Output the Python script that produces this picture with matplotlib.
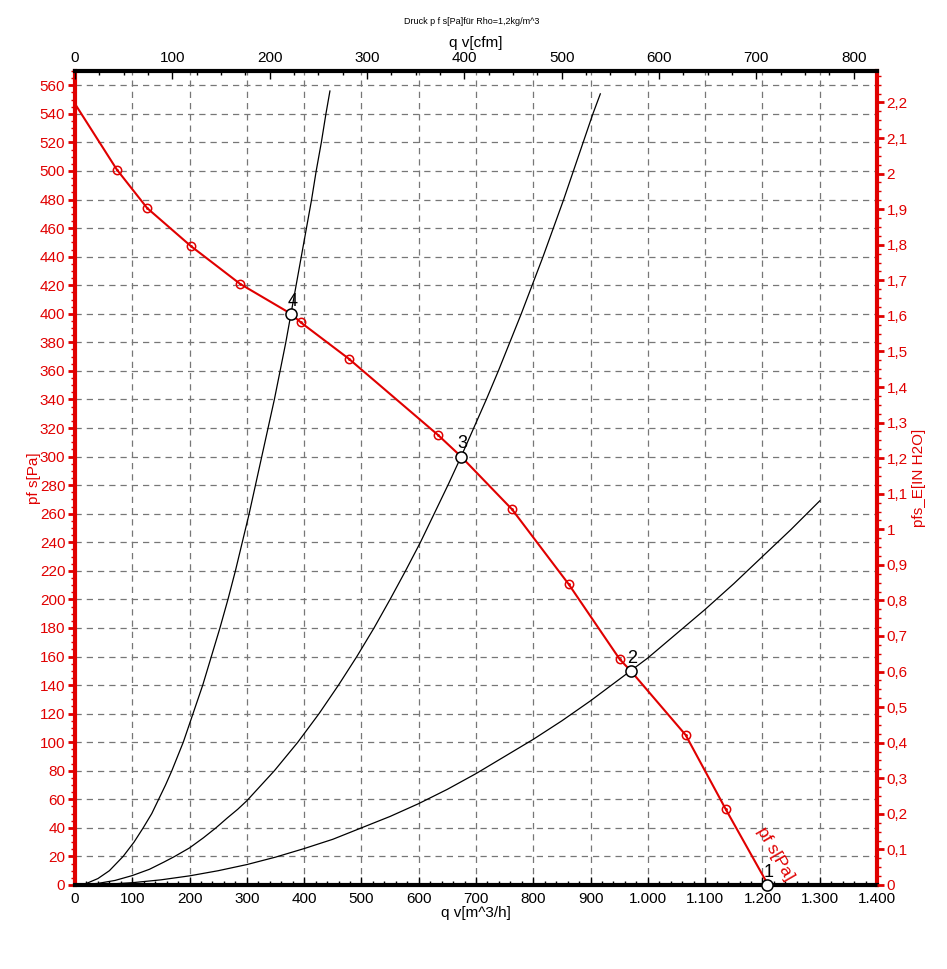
import matplotlib
matplotlib.use('Agg')
import matplotlib.pyplot as plt
from matplotlib.ticker import MultipleLocator, FuncFormatter

plt.rcParams['font.family'] = ['Liberation Sans', 'DejaVu Sans']

# fan curve p_fs [Pa] over q_v [m^3/h]
FAN_Q = [0, 73, 126, 202, 288, 377, 394, 478, 634, 674, 763, 862, 951, 970, 1066, 1136, 1210]
FAN_P = [547, 501, 474, 447.5, 421, 400, 394, 368.5, 315, 300, 263, 210.5, 158, 150, 105, 53, 0]
# red markers on the fan curve
MARK_Q = [73, 126, 202, 288, 394, 478, 634, 763, 862, 951, 1066, 1136]
MARK_P = [501, 474, 447.5, 421, 394, 368.5, 315, 263, 210.5, 158, 105, 53]

# system curves (black)
SYS4_Q = [0, 20, 40, 60, 84, 103, 119, 134, 146, 158, 169, 189, 206, 223, 238, 253, 267, 280, 292, 304, 315,
          326, 337, 348, 358, 368, 377, 386, 395, 404, 413, 421, 430, 438, 445]
SYS4_P = [0, 1.1, 4.5, 10, 20, 30, 40, 50, 60, 70, 80, 100, 120, 140, 160, 180, 200, 220, 240, 260, 280,
          300, 320, 340, 360, 380, 400, 420, 440, 460, 480, 500, 520, 540, 556]
SYS3_Q = [0, 40, 70, 100, 130, 155, 174, 200, 224, 246, 266, 284, 300, 348, 389, 426, 460, 492, 522, 550, 577,
          603, 627, 651, 674, 696, 718, 739, 759, 779, 798, 817, 835, 853, 870, 887, 904, 917]
SYS3_P = [0, 1.1, 3.2, 6.6, 11, 16, 20, 26, 33, 40, 47, 53, 59, 80, 100, 120, 140, 160, 180, 200, 220,
          240, 260, 280, 300, 320, 340, 360, 380, 400, 420, 440, 460, 480, 500, 520, 540, 554]
SYS2_Q = [0, 50, 100, 150, 200, 250, 300, 350, 400, 450, 500, 550, 600, 650, 700, 750, 800, 850, 900, 970,
          1000, 1050, 1100, 1150, 1200, 1250, 1300]
SYS2_P = [0, 0.4, 1.6, 3.6, 6.4, 10, 14.3, 19.5, 25.5, 32, 40, 48, 57, 67, 78, 90, 102, 115, 129, 150,
          159, 176, 193, 211, 230, 249, 269]

# operating points
OP_Q = [1208, 970, 674, 377]
OP_P = [0, 150, 300, 400]
OP_LABELS = ['1', '2', '3', '4']

RED = '#e00000'
PA_PER_INH2O = 249.09
M3H_PER_CFM = 1.699

fig = plt.figure(figsize=(9.47, 9.69), dpi=100)
ax = fig.add_axes([0.0792, 0.0867, 0.8469, 0.84])

ax.plot(SYS4_Q, SYS4_P, color='black', lw=0.9)
ax.plot(SYS3_Q, SYS3_P, color='black', lw=0.9)
ax.plot(SYS2_Q, SYS2_P, color='black', lw=0.9)

ax.plot(FAN_Q, FAN_P, color=RED, lw=1.5, zorder=3)
ax.plot(MARK_Q, MARK_P, 'o', ms=6, mfc='none', mec=RED, mew=1.1, zorder=4)
ax.plot(MARK_Q, MARK_P, '.', ms=2, color=RED, zorder=4)

ax.plot(OP_Q, OP_P, 'o', ms=8, mfc='white', mec='black', mew=1.1, zorder=5, clip_on=False)
for q, p, lab in zip(OP_Q, OP_P, OP_LABELS):
    ax.annotate(lab, (q, p), xytext=(1, 3), textcoords='offset points',
                ha='center', va='bottom', fontsize=13, zorder=6)

ax.text(1222, 22, 'pf s[Pa]', color=RED, fontsize=12.5, rotation=-60,
        ha='center', va='center', rotation_mode='anchor')

ax.set_xlim(0, 1400)
ax.set_ylim(0, 570)
ax.xaxis.set_major_locator(MultipleLocator(100))
ax.xaxis.set_minor_locator(MultipleLocator(20))
ax.yaxis.set_major_locator(MultipleLocator(20))
ax.yaxis.set_minor_locator(MultipleLocator(5))
ax.xaxis.set_major_formatter(FuncFormatter(lambda v, pos: f"{int(round(v)):,}".replace(',', '.')))
ax.grid(True, which='major', color='#777777', ls=(0, (5, 4)), lw=0.9)

ax.tick_params(axis='x', which='both', direction='in', labelsize=11, pad=5)
ax.tick_params(axis='x', which='major', length=6, width=1)
ax.tick_params(axis='x', which='minor', length=3, width=1)
ax.tick_params(axis='y', which='both', direction='out', colors=RED, labelsize=11, pad=2)
ax.tick_params(axis='y', which='major', length=5, width=2)
ax.tick_params(axis='y', which='minor', length=3, width=1)

ax.spines['bottom'].set_linewidth(3)
ax.spines['left'].set_linewidth(3)
ax.spines['left'].set_color(RED)
ax.spines['top'].set_linewidth(3)
ax.spines['right'].set_linewidth(3)
ax.spines['right'].set_color(RED)

ax.set_xlabel('q v[m^3/h]', fontsize=11, labelpad=0)
ax.set_ylabel('pf s[Pa]', fontsize=11, color=RED)
ax.yaxis.set_label_coords(-0.043, 0.5)

# top axis in cfm
axt = ax.twiny()
axt.set_xlim(0, 1400 / M3H_PER_CFM)
axt.xaxis.set_major_locator(MultipleLocator(100))
axt.xaxis.set_minor_locator(MultipleLocator(25))
axt.tick_params(axis='x', which='both', direction='in', labelsize=11, pad=4)
axt.tick_params(axis='x', which='major', length=6, width=1)
axt.tick_params(axis='x', which='minor', length=3, width=1)
axt.set_xlabel('q v[cfm]', fontsize=11, labelpad=3)
for s in axt.spines.values():
    s.set_visible(False)

# right axis in inch H2O
axr = ax.twinx()
axr.set_ylim(0, 570 / PA_PER_INH2O)
axr.yaxis.set_major_locator(MultipleLocator(0.1))
axr.yaxis.set_minor_locator(MultipleLocator(0.025))


def comma_fmt(v, pos):
    s = f"{v:.1f}".replace('.', ',')
    return s[:-2] if s.endswith(',0') else s


axr.yaxis.set_major_formatter(FuncFormatter(comma_fmt))
axr.tick_params(axis='y', which='both', direction='out', colors=RED, labelsize=11, pad=2)
axr.tick_params(axis='y', which='major', length=5, width=2)
axr.tick_params(axis='y', which='minor', length=3, width=1)
axr.set_ylabel('pfs_E[IN H2O]', fontsize=11, color=RED)
axr.yaxis.set_label_coords(1.044, 0.5)
for s in axr.spines.values():
    s.set_visible(False)

fig.text(472 / 947, 1 - 22 / 969, 'Druck p f s[Pa]für Rho=1,2kg/m^3', fontsize=6.5,
         ha='center', va='center')

fig.savefig('out.png', dpi=100)
